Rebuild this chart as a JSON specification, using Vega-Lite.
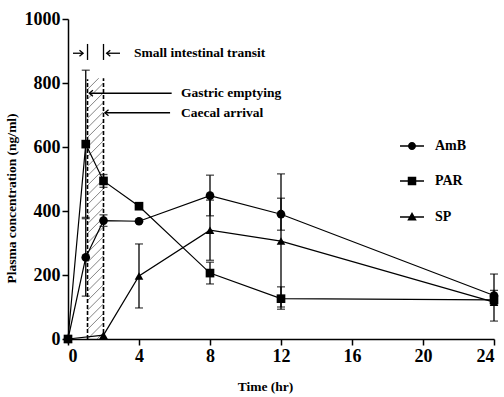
{
  "$schema": "https://vega.github.io/schema/vega-lite/v6.json",
  "width": 426,
  "height": 320,
  "autosize": {"type": "none"},
  "padding": {"left": 68, "top": 19, "right": 10, "bottom": 58},
  "background": "white",
  "config": {
    "view": {"stroke": null},
    "font": "Liberation Serif",
    "axis": {
      "domainColor": "black", "domainWidth": 1.5, "tickColor": "black", "tickWidth": 1.5, "tickSize": 6,
      "labelColor": "black", "labelFont": "Liberation Serif", "labelFontWeight": "bold", "labelFontSize": 18,
      "titleFont": "Liberation Serif", "titleFontWeight": "bold", "titleFontSize": 13.5, "titleColor": "black",
      "grid": false
    }
  },
  "datasets": {
    "pk": [
      {"drug": "AmB", "t": 0, "c": 0}, {"drug": "AmB", "t": 1, "c": 255}, {"drug": "AmB", "t": 2, "c": 370},
      {"drug": "AmB", "t": 4, "c": 368}, {"drug": "AmB", "t": 8, "c": 448}, {"drug": "AmB", "t": 12, "c": 390},
      {"drug": "AmB", "t": 24, "c": 136},
      {"drug": "PAR", "t": 0, "c": 0}, {"drug": "PAR", "t": 1, "c": 609}, {"drug": "PAR", "t": 2, "c": 494},
      {"drug": "PAR", "t": 4, "c": 415}, {"drug": "PAR", "t": 8, "c": 206}, {"drug": "PAR", "t": 12, "c": 126},
      {"drug": "PAR", "t": 24, "c": 122},
      {"drug": "SP", "t": 0, "c": 0}, {"drug": "SP", "t": 2, "c": 12}, {"drug": "SP", "t": 4, "c": 197},
      {"drug": "SP", "t": 8, "c": 340}, {"drug": "SP", "t": 12, "c": 306}, {"drug": "SP", "t": 24, "c": 115}
    ],
    "err": [
      {"drug": "AmB", "t": 1, "lo": 134, "hi": 376},
      {"drug": "AmB", "t": 2, "lo": 352, "hi": 388},
      {"drug": "AmB", "t": 8, "lo": 385, "hi": 512},
      {"drug": "AmB", "t": 12, "lo": 340, "hi": 440},
      {"drug": "AmB", "t": 24, "lo": 120, "hi": 152},
      {"drug": "PAR", "t": 1, "lo": 380, "hi": 840},
      {"drug": "PAR", "t": 2, "lo": 474, "hi": 514},
      {"drug": "PAR", "t": 8, "lo": 172, "hi": 240},
      {"drug": "PAR", "t": 12, "lo": 93, "hi": 163},
      {"drug": "PAR", "t": 24, "lo": 110, "hi": 134},
      {"drug": "SP", "t": 4, "lo": 97, "hi": 297},
      {"drug": "SP", "t": 8, "lo": 246, "hi": 434},
      {"drug": "SP", "t": 12, "lo": 100, "hi": 516},
      {"drug": "SP", "t": 24, "lo": 56, "hi": 203}
    ],
    "dashed": [
      {"t": 1.1, "c": 0, "c2": 812},
      {"t": 2.0, "c": 0, "c2": 815}
    ],
    "hatch": [
      {"t": 1.64, "c": 0, "t2": 2.0, "c2": 20},
      {"t": 1.1, "c": 0, "t2": 2.0, "c2": 50},
      {"t": 1.1, "c": 30, "t2": 2.0, "c2": 80},
      {"t": 1.1, "c": 60, "t2": 2.0, "c2": 110},
      {"t": 1.1, "c": 90, "t2": 2.0, "c2": 140},
      {"t": 1.1, "c": 120, "t2": 2.0, "c2": 170},
      {"t": 1.1, "c": 150, "t2": 2.0, "c2": 200},
      {"t": 1.1, "c": 180, "t2": 2.0, "c2": 230},
      {"t": 1.1, "c": 210, "t2": 2.0, "c2": 260},
      {"t": 1.1, "c": 240, "t2": 2.0, "c2": 290},
      {"t": 1.1, "c": 270, "t2": 2.0, "c2": 320},
      {"t": 1.1, "c": 300, "t2": 2.0, "c2": 350},
      {"t": 1.1, "c": 330, "t2": 2.0, "c2": 380},
      {"t": 1.1, "c": 360, "t2": 2.0, "c2": 410},
      {"t": 1.1, "c": 390, "t2": 2.0, "c2": 440},
      {"t": 1.1, "c": 420, "t2": 2.0, "c2": 470},
      {"t": 1.1, "c": 450, "t2": 2.0, "c2": 500},
      {"t": 1.1, "c": 480, "t2": 2.0, "c2": 530},
      {"t": 1.1, "c": 510, "t2": 2.0, "c2": 560},
      {"t": 1.1, "c": 540, "t2": 2.0, "c2": 590},
      {"t": 1.1, "c": 570, "t2": 2.0, "c2": 620},
      {"t": 1.1, "c": 600, "t2": 2.0, "c2": 650},
      {"t": 1.1, "c": 630, "t2": 2.0, "c2": 680},
      {"t": 1.1, "c": 660, "t2": 2.0, "c2": 710},
      {"t": 1.1, "c": 690, "t2": 2.0, "c2": 740},
      {"t": 1.1, "c": 720, "t2": 2.0, "c2": 770},
      {"t": 1.1, "c": 750, "t2": 2.0, "c2": 800},
      {"t": 1.1, "c": 780, "t2": 1.73, "c2": 815}
    ],
    "segs": [
      {"t": 0.28, "c": 893, "t2": 0.85, "c2": 893},
      {"t": 1.1, "c": 872, "t2": 1.1, "c2": 922},
      {"t": 2.0, "c": 872, "t2": 2.0, "c2": 922},
      {"t": 2.18, "c": 893, "t2": 2.93, "c2": 893},
      {"t": 1.2, "c": 768, "t2": 5.84, "c2": 768},
      {"t": 2.08, "c": 707, "t2": 5.75, "c2": 707}
    ],
    "heads": [
      {"t": 0.85, "c": 893, "dir": "right"},
      {"t": 2.18, "c": 893, "dir": "left"},
      {"t": 1.2, "c": 768, "dir": "left"},
      {"t": 2.08, "c": 707, "dir": "left"}
    ],
    "notes": [
      {"t": 3.72, "c": 893, "text": "Small intestinal transit"},
      {"t": 6.37, "c": 768, "text": "Gastric emptying"},
      {"t": 6.37, "c": 707, "text": "Caecal arrival"}
    ]
  },
  "layer": [
    {
      "data": {"name": "hatch"},
      "mark": {"type": "rule", "stroke": "#666", "strokeWidth": 0.8},
      "encoding": {
        "x": {"field": "t", "type": "quantitative", "scale": {"domain": [0, 24], "nice": false},
              "axis": {"values": [0, 4, 8, 12, 16, 20, 24], "format": "d", "title": "Time (hr)", "titlePadding": 14, "titleX": 197}},
        "y": {"field": "c", "type": "quantitative", "scale": {"domain": [0, 1000], "nice": false},
              "axis": {"values": [0, 200, 400, 600, 800, 1000], "format": "d", "title": "Plasma concentration (ng/ml)", "titlePadding": 6, "titleY": 179, "labelPadding": 2}},
        "x2": {"field": "t2"},
        "y2": {"field": "c2"}
      }
    },
    {
      "data": {"name": "dashed"},
      "mark": {"type": "rule", "stroke": "black", "strokeWidth": 1.6, "strokeDash": [4, 2]},
      "encoding": {
        "x": {"field": "t", "type": "quantitative"},
        "y": {"field": "c", "type": "quantitative"},
        "y2": {"field": "c2"}
      }
    },
    {
      "data": {"name": "pk"},
      "mark": {"type": "line", "color": "black", "strokeWidth": 1.2},
      "encoding": {
        "x": {"field": "t", "type": "quantitative"},
        "y": {"field": "c", "type": "quantitative"},
        "detail": {"field": "drug"},
        "order": {"field": "t"}
      }
    },
    {
      "data": {"name": "err"},
      "mark": {"type": "rule", "color": "black", "strokeWidth": 1.3},
      "encoding": {
        "x": {"field": "t", "type": "quantitative"},
        "y": {"field": "lo", "type": "quantitative"},
        "y2": {"field": "hi"}
      }
    },
    {
      "data": {"name": "err"},
      "mark": {"type": "tick", "orient": "horizontal", "color": "black", "size": 8, "thickness": 1.3},
      "encoding": {
        "x": {"field": "t", "type": "quantitative"},
        "y": {"field": "lo", "type": "quantitative"}
      }
    },
    {
      "data": {"name": "err"},
      "mark": {"type": "tick", "orient": "horizontal", "color": "black", "size": 8, "thickness": 1.3},
      "encoding": {
        "x": {"field": "t", "type": "quantitative"},
        "y": {"field": "hi", "type": "quantitative"}
      }
    },
    {
      "data": {"name": "pk"},
      "mark": {"type": "point", "filled": true, "color": "black", "size": 75, "opacity": 1},
      "encoding": {
        "x": {"field": "t", "type": "quantitative"},
        "y": {"field": "c", "type": "quantitative"},
        "shape": {"field": "drug", "type": "nominal",
                  "scale": {"domain": ["AmB", "PAR", "SP"], "range": ["circle", "square", "triangle-up"]},
                  "legend": null}
      }
    },
    {
      "data": {"name": "pk"},
      "transform": [{"filter": "datum.t < 0"}],
      "mark": {"type": "point", "filled": true, "color": "black", "opacity": 1},
      "encoding": {
        "x": {"field": "t", "type": "quantitative"},
        "y": {"field": "c", "type": "quantitative"},
        "shape": {"field": "drug", "type": "nominal",
                  "scale": {"domain": ["AmB", "PAR", "SP"],
                            "range": [
                              "M-2.4,-0.13H2.4V0.13H-2.4ZM0.8,0A0.8,0.8,0,1,1,-0.8,0A0.8,0.8,0,1,1,0.8,0Z",
                              "M-2.4,-0.13H2.4V0.13H-2.4ZM-0.85,-0.85H0.85V0.85H-0.85Z",
                              "M-2.4,-0.13H2.4V0.13H-2.4ZM0,-1L0.95,0.7H-0.95Z"
                            ]},
                  "legend": {
                    "title": null, "orient": "none", "legendX": 337, "legendY": 120,
                    "labelFont": "Liberation Serif", "labelFontWeight": "bold", "labelFontSize": 14,
                    "labelColor": "black", "symbolSize": 100, "rowPadding": 20, "labelOffset": 16,
                    "symbolFillColor": "black"
                  }}
      }
    },
    {
      "data": {"name": "segs"},
      "mark": {"type": "rule", "color": "black", "strokeWidth": 1.3},
      "encoding": {
        "x": {"field": "t", "type": "quantitative"},
        "y": {"field": "c", "type": "quantitative"},
        "x2": {"field": "t2"},
        "y2": {"field": "c2"}
      }
    },
    {
      "data": {"name": "heads"},
      "mark": {"type": "point", "filled": false, "stroke": "black", "strokeWidth": 1.3, "size": 36, "opacity": 1},
      "encoding": {
        "x": {"field": "t", "type": "quantitative"},
        "y": {"field": "c", "type": "quantitative"},
        "shape": {"field": "dir", "type": "nominal",
                  "scale": {"domain": ["left", "right"], "range": ["M1.2,-1L0,0L1.2,1", "M-1.2,-1L0,0L-1.2,1"]},
                  "legend": null}
      }
    },
    {
      "data": {"name": "notes"},
      "mark": {"type": "text", "align": "left", "baseline": "middle", "font": "Liberation Serif",
               "fontWeight": "bold", "fontSize": 13.5, "color": "black"},
      "encoding": {
        "x": {"field": "t", "type": "quantitative"},
        "y": {"field": "c", "type": "quantitative"},
        "text": {"field": "text"}
      }
    }
  ],
  "resolve": {"scale": {"shape": "independent"}}
}
